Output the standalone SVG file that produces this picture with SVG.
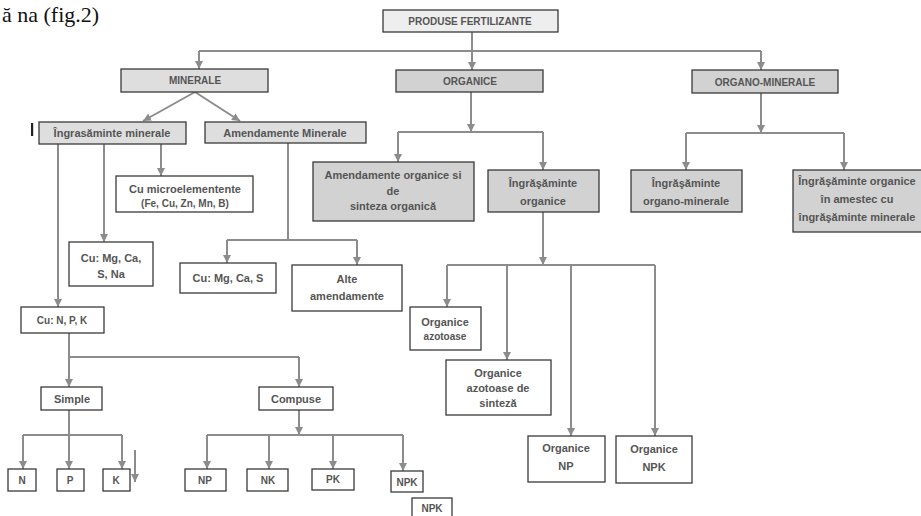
<svg xmlns="http://www.w3.org/2000/svg" width="921" height="516" viewBox="0 0 921 516">
<style>
.b{stroke:#3a3a3a;stroke-width:1.3;fill:#ffffff}
.g1{fill:#eeeeee}
.g2{fill:#dedede}
.g3{fill:#d2d2d2}
.t{font-family:"Liberation Sans",Arial,sans-serif;font-size:11px;font-weight:bold;fill:#555;text-anchor:middle}
.tc{font-size:10px}
.s{font-size:10px}
.c{stroke:#8c8c8c;stroke-width:2;fill:none}
.a{marker-end:url(#ah)}
</style>
<defs>
<marker id="ah" viewBox="0 0 10 10" refX="10" refY="5" markerWidth="8" markerHeight="8" markerUnits="userSpaceOnUse" orient="auto">
<path d="M0,0 L10,5 L0,10 z" fill="#8c8c8c"/>
</marker>
</defs>
<rect width="921" height="516" fill="#ffffff"/>
<text x="2" y="22" font-family="Liberation Serif,serif" font-size="22" fill="#111">ă na (fig.2)</text>
<rect x="31" y="123" width="2.2" height="13" fill="#222"/>

<g id="connectors">
<path class="c" d="M199,51 L761,51"/>
<path class="c a" d="M472,32 L472,70"/>
<path class="c a" d="M199,51 L199,69"/>
<path class="c a" d="M761,51 L761,70"/>
<path class="c a" d="M195,92 L143,121"/>
<path class="c a" d="M195,92 L240,121"/>
<path class="c a" d="M58,144 L58,307"/>
<path class="c a" d="M104,144 L104,242"/>
<path class="c a" d="M161,144 L161,176"/>
<path class="c" d="M288,143 L288,240 M227,240 L357,240"/>
<path class="c a" d="M227,240 L227,263"/>
<path class="c a" d="M357,240 L357,265"/>
<path class="c a" d="M471,92 L471,132"/>
<path class="c" d="M398,132 L543,132"/>
<path class="c a" d="M398,132 L398,162"/>
<path class="c a" d="M543,132 L543,170"/>
<path class="c a" d="M543,212 L543,265"/>
<path class="c" d="M447,265 L655,265"/>
<path class="c a" d="M447,265 L447,307"/>
<path class="c a" d="M507,265 L507,360"/>
<path class="c a" d="M571,265 L571,436"/>
<path class="c a" d="M655,265 L655,436"/>
<path class="c a" d="M761,93 L761,133"/>
<path class="c" d="M686,133 L844,133"/>
<path class="c a" d="M686,133 L686,170"/>
<path class="c a" d="M844,133 L844,170"/>
<path class="c" d="M69,333 L69,357 L299,357"/>
<path class="c a" d="M69,357 L69,387"/>
<path class="c a" d="M299,357 L299,387"/>
<path class="c" d="M69,410 L69,435 M23,435 L122,435"/>
<path class="c a" d="M23,435 L23,469"/>
<path class="c a" d="M69,435 L69,469"/>
<path class="c a" d="M122,435 L122,469"/>
<path class="c a" d="M135,450 L135,482"/>
<path class="c a" d="M299,410 L299,435"/>
<path class="c" d="M207,435 L403,435"/>
<path class="c a" d="M207,435 L207,469"/>
<path class="c a" d="M269,435 L269,469"/>
<path class="c a" d="M333,435 L333,469"/>
<path class="c a" d="M403,435 L403,471"/>
</g>

<g id="produse"><rect class="b g1" x="383" y="10" width="175" height="22"/><text class="t tc" x="470" y="25">PRODUSE FERTILIZANTE</text></g>
<g id="minerale"><rect class="b g2" x="121" y="69" width="147" height="23"/><text class="t tc" x="195" y="84">MINERALE</text></g>
<g id="organice"><rect class="b g3" x="396" y="70" width="147" height="22"/><text class="t tc" x="470" y="85">ORGANICE</text></g>
<g id="organo-minerale"><rect class="b g3" x="692" y="70" width="146" height="23"/><text class="t tc" x="765" y="86">ORGANO-MINERALE</text></g>

<g id="ingr-minerale"><rect class="b g2" x="39" y="122" width="147" height="22"/><text class="t" x="112" y="137">Îngrasăminte minerale</text></g>
<g id="amend-minerale"><rect class="b g2" x="205" y="122" width="161" height="21"/><text class="t" x="285" y="137">Amendamente Minerale</text></g>
<g id="cu-micro"><rect class="b" x="116" y="176" width="137" height="36"/><text class="t" x="185" y="193">Cu microelementente</text><text class="t s" x="185" y="207">(Fe, Cu, Zn, Mn, B)</text></g>
<g id="cu-mg-na"><rect class="b" x="69" y="242" width="84" height="44"/><text class="t" x="111" y="262">Cu:  Mg, Ca,</text><text class="t" x="111" y="278">S, Na</text></g>
<g id="cu-mg-s"><rect class="b" x="180" y="263" width="96" height="30"/><text class="t" x="228" y="282">Cu:  Mg, Ca, S</text></g>
<g id="alte"><rect class="b" x="292" y="265" width="110" height="46"/><text class="t" x="347" y="283">Alte</text><text class="t" x="347" y="300">amendamente</text></g>

<g id="amend-organice"><rect class="b g3" x="313" y="162" width="161" height="59"/><text class="t" x="393" y="179">Amendamente organice si</text><text class="t" x="393" y="195">de</text><text class="t" x="393" y="210">sinteza organică</text></g>
<g id="ingr-organice"><rect class="b g3" x="488" y="170" width="111" height="42"/><text class="t" x="543" y="187">Îngrăşăminte</text><text class="t" x="543" y="205">organice</text></g>
<g id="ingr-organo-minerale"><rect class="b g3" x="631" y="170" width="111" height="42"/><text class="t" x="686" y="187">Îngrăşăminte</text><text class="t" x="686" y="205">organo-minerale</text></g>
<g id="ingr-amestec"><rect class="b g3" x="793" y="170" width="134" height="62"/><text class="t" x="857" y="185">Îngrăşăminte organice</text><text class="t" x="857" y="203">în amestec cu</text><text class="t" x="857" y="221">îngrăşăminte minerale</text></g>

<g id="org-azotoase"><rect class="b" x="410" y="307" width="71" height="43"/><text class="t" x="445" y="326">Organice</text><text class="t s" x="445" y="340">azotoase</text></g>
<g id="org-azotoase-sinteza"><rect class="b" x="446" y="360" width="105" height="55"/><text class="t" x="498" y="377">Organice</text><text class="t" x="498" y="392">azotoase de</text><text class="t" x="498" y="407">sinteză</text></g>
<g id="org-np"><rect class="b" x="528" y="436" width="77" height="46"/><text class="t" x="566" y="452">Organice</text><text class="t" x="566" y="470">NP</text></g>
<g id="org-npk"><rect class="b" x="616" y="436" width="76" height="47"/><text class="t" x="654" y="453">Organice</text><text class="t" x="654" y="471">NPK</text></g>

<g id="cu-npk"><rect class="b" x="21" y="307" width="83" height="26"/><text class="t s" x="62" y="324">Cu: N, P, K</text></g>
<g id="simple"><rect class="b" x="41" y="387" width="61" height="23"/><text class="t" x="72" y="403">Simple</text></g>
<g id="compuse"><rect class="b" x="259" y="387" width="74" height="23"/><text class="t" x="296" y="403">Compuse</text></g>
<g id="n"><rect class="b" x="8" y="469" width="28" height="22"/><text class="t s" x="22" y="484">N</text></g>
<g id="p"><rect class="b" x="57" y="469" width="27" height="22"/><text class="t s" x="70" y="484">P</text></g>
<g id="k"><rect class="b" x="103" y="469" width="27" height="22"/><text class="t s" x="116" y="484">K</text></g>
<g id="np"><rect class="b" x="185" y="469" width="41" height="22"/><text class="t s" x="205" y="484">NP</text></g>
<g id="nk"><rect class="b" x="247" y="469" width="41" height="22"/><text class="t s" x="268" y="484">NK</text></g>
<g id="pk"><rect class="b" x="312" y="469" width="42" height="21"/><text class="t s" x="333" y="483">PK</text></g>
<g id="npk"><rect class="b" x="391" y="471" width="32" height="21"/><text class="t s" x="407" y="486">NPK</text></g>
<g id="npk2"><rect class="b" x="412" y="498" width="40" height="22"/><text class="t s" x="432" y="512">NPK</text></g>
</svg>
